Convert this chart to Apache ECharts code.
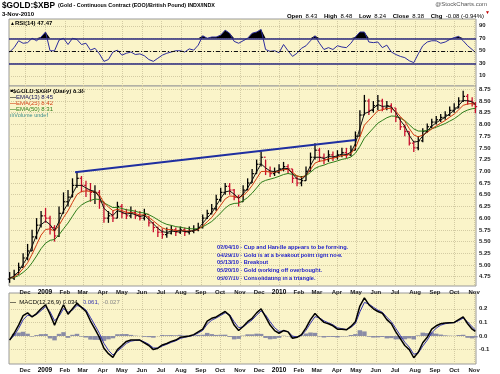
<!DOCTYPE html>
<html><head><meta charset="utf-8">
<script src="https://cdn.jsdelivr.net/npm/echarts@6/dist/echarts.min.js"></script>
<style>html,body{margin:0;padding:0;background:#fff}#c{width:500px;height:374px}</style>
</head><body><div id="c"></div><script>
// ---------- DATA ----------
const weekDates = [
'2008-11-07','2008-11-14','2008-11-21','2008-11-28','2008-12-05','2008-12-12','2008-12-19','2008-12-26',
'2009-01-02','2009-01-09','2009-01-16','2009-01-23','2009-01-30','2009-02-06','2009-02-13','2009-02-20','2009-02-27',
'2009-03-06','2009-03-13','2009-03-20','2009-03-27','2009-04-03','2009-04-10','2009-04-17','2009-04-24',
'2009-05-01','2009-05-08','2009-05-15','2009-05-22','2009-05-29','2009-06-05','2009-06-12','2009-06-19','2009-06-26',
'2009-07-03','2009-07-10','2009-07-17','2009-07-24','2009-07-31','2009-08-07','2009-08-14','2009-08-21','2009-08-28',
'2009-09-04','2009-09-11','2009-09-18','2009-09-25','2009-10-02','2009-10-09','2009-10-16','2009-10-23','2009-10-30',
'2009-11-06','2009-11-13','2009-11-20','2009-11-27','2009-12-04','2009-12-11','2009-12-18','2009-12-25',
'2010-01-01','2010-01-08','2010-01-15','2010-01-22','2010-01-29','2010-02-05','2010-02-12','2010-02-19','2010-02-26',
'2010-03-05','2010-03-12','2010-03-19','2010-03-26','2010-04-02','2010-04-09','2010-04-16','2010-04-23','2010-04-30',
'2010-05-07','2010-05-14','2010-05-21','2010-05-28','2010-06-04','2010-06-11','2010-06-18','2010-06-25',
'2010-07-02','2010-07-09','2010-07-16','2010-07-23','2010-07-30','2010-08-06','2010-08-13','2010-08-20','2010-08-27',
'2010-09-03','2010-09-10','2010-09-17','2010-09-24','2010-10-01','2010-10-08','2010-10-15','2010-10-22','2010-10-29','2010-11-03'];
const priceOpen = [4.70,4.72,4.80,4.95,5.15,5.30,5.60,5.85,6.05,6.00,5.80,5.62,6.10,6.35,6.45,6.70,6.85,6.70,6.60,6.55,6.55,6.35,6.00,6.05,
6.00,6.25,6.10,6.05,6.12,6.05,6.00,6.08,5.90,5.80,5.70,5.65,5.68,5.75,5.70,5.75,5.70,5.72,5.75,5.80,6.00,6.10,6.20,6.40,6.55,6.68,6.60,6.45,
6.35,6.60,6.75,6.95,7.15,7.30,7.00,6.95,6.98,7.05,7.10,7.05,6.85,6.75,6.80,7.00,7.30,7.45,7.30,7.25,7.35,7.30,7.35,7.40,7.35,7.45,
7.75,8.20,8.50,8.30,8.40,8.50,8.35,8.40,8.35,8.15,7.95,7.85,7.60,7.50,7.65,7.85,7.95,8.05,8.10,8.15,8.20,8.30,8.35,8.50,8.60,8.50,8.43];
const priceHigh = [4.85,4.90,5.05,5.25,5.45,5.75,6.00,6.15,6.22,6.05,5.85,6.25,6.55,6.60,6.85,7.00,6.90,6.80,6.75,6.70,6.60,6.35,6.15,6.15,
6.35,6.30,6.20,6.25,6.18,6.15,6.20,6.05,5.92,5.82,5.78,5.80,5.85,5.80,5.82,5.80,5.82,5.85,5.90,6.08,6.18,6.30,6.50,6.65,6.75,6.75,6.62,6.50,
6.70,6.85,7.05,7.25,7.42,7.25,7.10,7.08,7.15,7.20,7.15,7.05,6.90,6.90,7.10,7.40,7.60,7.50,7.38,7.45,7.42,7.45,7.50,7.50,7.55,7.85,
8.30,8.63,8.55,8.50,8.63,8.55,8.50,8.45,8.35,8.15,8.00,7.85,7.65,7.75,7.92,8.02,8.12,8.18,8.22,8.28,8.38,8.45,8.58,8.72,8.65,8.58,8.48];
const priceLow = [4.62,4.68,4.80,4.95,5.10,5.30,5.55,5.80,5.90,5.65,5.50,5.60,6.10,6.25,6.45,6.65,6.55,6.45,6.35,6.30,6.20,5.90,5.90,5.92,
6.00,6.00,5.98,6.00,5.98,5.95,5.95,5.82,5.70,5.60,5.56,5.58,5.65,5.62,5.66,5.62,5.65,5.68,5.72,5.78,5.98,6.08,6.15,6.35,6.50,6.50,6.38,6.25,
6.35,6.60,6.75,6.95,7.10,6.92,6.88,6.90,6.95,7.00,6.95,6.75,6.68,6.68,6.80,7.00,7.25,7.20,7.15,7.20,7.22,7.25,7.30,7.28,7.32,7.45,
7.75,8.20,8.20,8.25,8.30,8.28,8.30,8.25,8.05,7.88,7.75,7.55,7.41,7.45,7.62,7.82,7.92,8.00,8.05,8.10,8.18,8.25,8.35,8.48,8.42,8.38,8.24];
const priceClose = [4.72,4.80,4.95,5.15,5.30,5.60,5.85,6.05,6.00,5.80,5.62,6.10,6.35,6.45,6.70,6.85,6.70,6.60,6.55,6.55,6.35,6.00,6.05,6.00,
6.25,6.10,6.05,6.12,6.05,6.00,6.08,5.90,5.80,5.70,5.65,5.68,5.75,5.70,5.75,5.70,5.72,5.75,5.80,6.00,6.10,6.20,6.40,6.55,6.68,6.60,6.45,6.35,
6.60,6.75,6.95,7.15,7.30,7.00,6.95,6.98,7.05,7.10,7.05,6.85,6.75,6.80,7.00,7.30,7.45,7.30,7.25,7.35,7.30,7.35,7.40,7.35,7.45,7.75,
8.20,8.50,8.30,8.40,8.50,8.35,8.40,8.35,8.15,7.95,7.85,7.60,7.50,7.65,7.85,7.95,8.05,8.10,8.15,8.20,8.30,8.35,8.50,8.60,8.50,8.46,8.38];
const rsiValues = [48,55,66,62,63,70,66,72,80,50,50,67,70,60,70,68,60,62,51,54,45,33,36,48,51,43,46,48,44,45,42,36,33,38,43,46,48,50,50,48,53,51,59,
74,70,72,72,75,83,78,65,62,66,70,78,80,84,52,49,50,47,60,50,41,46,54,58,66,74,62,52,55,52,58,56,55,62,72,80,80,64,63,64,55,59,48,
44,41,39,34,31,45,58,64,66,66,62,64,68,71,73,66,58,52,47.47];
const macdValues = [-0.03,0.02,0.08,0.15,0.17,0.14,0.165,0.20,0.23,0.16,0.08,0.16,0.23,0.16,0.20,0.24,0.21,0.18,0.11,0.05,-0.01,-0.09,-0.13,-0.157,
-0.10,-0.07,-0.04,-0.03,-0.03,-0.03,-0.05,-0.07,-0.10,-0.09,-0.066,-0.055,-0.04,-0.03,-0.01,-0.005,0.0,0.01,0.03,0.05,0.11,0.13,0.14,0.16,0.18,0.15,0.08,0.04,
0.07,0.105,0.13,0.17,0.20,0.14,0.08,0.04,0.02,0.04,0.03,-0.017,-0.01,0.01,0.06,0.12,0.165,0.13,0.10,0.09,0.075,0.05,0.05,0.045,0.07,0.105,
0.22,0.28,0.23,0.20,0.18,0.167,0.12,0.09,0.03,-0.02,-0.07,-0.10,-0.16,-0.12,-0.05,-0.01,0.05,0.075,0.09,0.095,0.098,0.10,0.12,0.14,0.09,0.05,0.034];
const trendDates = ['2009-02-17','2010-04-30'];
const trendValues = [6.98,7.67];
const monthTicks = ['2008-12-01','2009-01-01','2009-02-01','2009-03-01','2009-04-01','2009-05-01','2009-06-01','2009-07-01','2009-08-01','2009-09-01','2009-10-01','2009-11-01',
'2009-12-01','2010-01-01','2010-02-01','2010-03-01','2010-04-01','2010-05-01','2010-06-01','2010-07-01','2010-08-01','2010-09-01','2010-10-01','2010-11-01'];
const monthLabels = ['Dec','2009','Feb','Mar','Apr','May','Jun','Jul','Aug','Sep','Oct','Nov','Dec','2010','Feb','Mar','Apr','May','Jun','Jul','Aug','Sep','Oct','Nov'];
const priceTicks = [4.75,5.00,5.25,5.50,5.75,6.00,6.25,6.50,6.75,7.00,7.25,7.50,7.75,8.00,8.25,8.50,8.75];
const rsiTicks = [10,30,50,70,90];
const macdTicks = [-0.1,0.0,0.1,0.2];
const annotations = ['02/04/10 - Cup and Handle appears to be forming.','04/29/10 - Gold is at a breakout point right now.','05/13/10 - Breakout','05/20/10 - Gold working off overbought.','06/07/10 - Consolidating in a triangle.'];

// ---------- derived ----------
const T = s => Date.parse(s);
const xs = weekDates.map(T);
function ema(arr, a){ const out=[]; let e=arr[0]; arr.forEach((v,i)=>{ e = i===0 ? v : e + a*(v-e); out.push(e); }); return out; }
// daily EMA periods converted to weekly samples: a = 1-(1-2/(N+1))^5
const wa = N => 1-Math.pow(1-2/(N+1),5);
const ema13 = ema(priceClose, wa(13)), ema25 = ema(priceClose, wa(25)), ema50 = ema(priceClose, wa(50));
const signal = ema(macdValues, wa(9));
const hist = macdValues.map((v,i)=>v-signal[i]);
const labelMap = {}; monthTicks.forEach((d,i)=>labelMap[T(d)]=monthLabels[i]);

const FONT = 'Liberation Sans, Arial, sans-serif';
const bg = '#faf4c9';
const gridLine = {show:true, lineStyle:{color:'#d3cba3', type:'dotted', width:1}};
const xMin = T('2008-11-06'), xMax = T('2010-11-04');
function xAxis(gi, showLabel){
  return {type:'value', gridIndex:gi, min:xMin, max:xMax, axisLine:{show:false},
    axisTick:{show:false, customValues: monthTicks.map(T)},
    axisLabel:{show:showLabel, customValues: monthTicks.map(T), fontSize:6, fontWeight:'bold', fontFamily:FONT, color:'#222', margin:3,
      formatter: v => { const l = labelMap[v]; return /^20/.test(l) ? '{y|'+l+'}' : l; },
      rich:{y:{fontSize:6.5, fontWeight:'bold', fontFamily:FONT, color:'#000'}}},
    splitLine: gridLine};
}
function yAxis(gi, min, max, ticks, fmt){
  return {type:'value', gridIndex:gi, position:'right', min, max, scale:true,
    axisLine:{show:false}, axisTick:{show:false, customValues:ticks},
    axisLabel:{customValues:ticks, fontSize:6, fontWeight:'bold', fontFamily:FONT, color:'#222', margin:3, formatter:fmt},
    splitLine: gridLine};
}
const rsiHigh = rsiValues.map(v=>Math.max(v,70));

const option = {
  animation:false,
  backgroundColor:'#fff',
  grid:[
    {left:9, right:24, top:19, height:67, show:true, backgroundColor:bg, borderColor:'#9a9a9a', borderWidth:1},
    {left:9, right:24, top:86, height:200, show:true, backgroundColor:bg, borderColor:'#9a9a9a', borderWidth:1},
    {left:9, right:24, top:293, height:71, show:true, backgroundColor:bg, borderColor:'#9a9a9a', borderWidth:1}
  ],
  xAxis:[xAxis(0,false), xAxis(1,true), xAxis(2,true)],
  yAxis:[
    yAxis(0,-6.4,100.8,rsiTicks, v=>String(v)),
    yAxis(1,4.552,8.82,priceTicks, v=>v.toFixed(2)),
    yAxis(2,-0.206,0.316,macdTicks, v=>v.toFixed(1))
  ],
  series:[
    {type:'line', xAxisIndex:0, yAxisIndex:0, data: xs.map((x,i)=>[x,rsiHigh[i]]), symbol:'none',
      lineStyle:{width:0}, areaStyle:{color:'#000', origin:70, opacity:1}, silent:true, z:2},
    {type:'line', xAxisIndex:0, yAxisIndex:0, data: xs.map((x,i)=>[x,rsiValues[i]]), symbol:'none',
      lineStyle:{color:'#2c2c9c', width:1}, z:3,
      markLine:{symbol:'none', silent:true, label:{show:false}, data:[
        {yAxis:70, lineStyle:{color:'#28287e', width:1.5, type:'solid'}},
        {yAxis:30, lineStyle:{color:'#28287e', width:1.5, type:'solid'}},
        {yAxis:50, lineStyle:{color:'#111', width:1, type:[4,2,1,2]}}]}},
    {type:'custom', xAxisIndex:1, yAxisIndex:1, z:3,
      data: xs.map((x,i)=>[x,priceOpen[i],priceHigh[i],priceLow[i],priceClose[i]]),
      encode:{x:0, y:[1,2,3,4]},
      renderItem:(params, api)=>{
        const x=api.value(0), o=api.value(1), h=api.value(2), l=api.value(3), c=api.value(4);
        const ph=api.coord([x,h]), pl=api.coord([x,l]), po=api.coord([x,o]), pc=api.coord([x,c]);
        const col = c>=o ? '#000' : '#c8102e';
        return {type:'group', children:[
          {type:'line', shape:{x1:ph[0],y1:ph[1],x2:pl[0],y2:pl[1]}, style:{stroke:col,lineWidth:1.3}},
          {type:'line', shape:{x1:po[0]-1.8,y1:po[1],x2:po[0],y2:po[1]}, style:{stroke:col,lineWidth:1.2}},
          {type:'line', shape:{x1:pc[0],y1:pc[1],x2:pc[0]+1.8,y2:pc[1]}, style:{stroke:col,lineWidth:1.2}}]};
      }},
    {type:'line', xAxisIndex:1, yAxisIndex:1, data: xs.map((x,i)=>[x,ema50[i]]), symbol:'none', lineStyle:{color:'#2e7d1a', width:1}, z:4},
    {type:'line', xAxisIndex:1, yAxisIndex:1, data: xs.map((x,i)=>[x,ema25[i]]), symbol:'none', lineStyle:{color:'#d03a10', width:1}, z:4},
    {type:'line', xAxisIndex:1, yAxisIndex:1, data: xs.map((x,i)=>[x,ema13[i]]), symbol:'none', lineStyle:{color:'#111', width:1}, z:4},
    {type:'line', xAxisIndex:1, yAxisIndex:1, data: trendDates.map((d,i)=>[T(d),trendValues[i]]), symbol:'none', lineStyle:{color:'#1f2fa0', width:2}, z:5},
    {type:'bar', xAxisIndex:2, yAxisIndex:2, data: xs.map((x,i)=>[x,hist[i]]), barWidth:4.5, itemStyle:{color:'#8a8ca6'}, z:2},
    {type:'line', xAxisIndex:2, yAxisIndex:2, data: xs.map((x,i)=>[x,signal[i]]), symbol:'none', lineStyle:{color:'#3535b0', width:1}, z:3},
    {type:'line', xAxisIndex:2, yAxisIndex:2, data: xs.map((x,i)=>[x,macdValues[i]]), symbol:'none', lineStyle:{color:'#000', width:1.5}, z:4}
  ],
  graphic:[
    {type:'text', left:2, top:1.5, style:{text:'$GOLD:$XBP', font:'bold 8.3px '+FONT, fill:'#000'}},
    {type:'text', left:58, top:3.5, style:{text:'(Gold - Continuous Contract (EOO)/British Pound) INDX/INDX', font:'bold 5.4px '+FONT, fill:'#000'}},
    {type:'text', left:2, top:11, style:{text:'3-Nov-2010', font:'bold 6px '+FONT, fill:'#000'}},
    {type:'text', right:13, top:1, style:{text:'@StockCharts.com', font:'6px '+FONT, fill:'#555'}},
    {type:'text', right:16, top:10.5, style:{
      text:'{k|Open} {v|8.43}  {k|High} {v|8.48}  {k|Low} {v|8.24}  {k|Close} {v|8.38}  {k|Chg} {v|-0.08 (-0.94%)}',
      rich:{k:{font:'bold 6px '+FONT, fill:'#000'}, v:{font:'6px '+FONT, fill:'#000'}}}},
    {type:'text', right:10, top:10.5, style:{text:'\u25BC', font:'5px '+FONT, fill:'#c00000'}},
    {type:'text', left:10, top:20.5, style:{text:'{i|\u25B2}{t|RSI(14) 47.47}', rich:{i:{font:'5px '+FONT, fill:'#000'}, t:{font:'bold 6px '+FONT, fill:'#000'}}}},
    {type:'text', left:10, top:88, style:{text:'{i|\u25A0}{t|$GOLD:$XBP (Daily) 8.38}', rich:{i:{font:'5px '+FONT, fill:'#000'}, t:{font:'bold 6px '+FONT, fill:'#000'}}}},
    {type:'text', left:10, top:94, style:{text:'{l|\u2014}{t|EMA(13) 8.45}', rich:{l:{font:'bold 6px '+FONT, fill:'#000'}, t:{font:'6px '+FONT, fill:'#10105a'}}}},
    {type:'text', left:10, top:100, style:{text:'{l|\u2014}{t|EMA(25) 8.42}', rich:{l:{font:'bold 6px '+FONT, fill:'#d03a10'}, t:{font:'6px '+FONT, fill:'#d03a10'}}}},
    {type:'text', left:10, top:106, style:{text:'{l|\u2014}{t|EMA(50) 8.31}', rich:{l:{font:'bold 6px '+FONT, fill:'#2e7d1a'}, t:{font:'6px '+FONT, fill:'#2e7d1a'}}}},
    {type:'text', left:10, top:112, style:{text:'ılıVolume undef', font:'5.5px '+FONT, fill:'#3b8c8c'}},
    {type:'text', left:217, top:243.5, style:{text:annotations.join('\n'), font:'bold 5.6px '+FONT, fill:'#1a1ac8', lineHeight:7.75}},
    {type:'text', left:10, top:296, style:{text:'{l|\u2014} {t|MACD(12,26,9) 0.034,} {b|0.061,} {g|-0.027}',
      rich:{l:{font:'bold 6px '+FONT, fill:'#000'}, t:{font:'6px '+FONT, fill:'#000'}, b:{font:'6px '+FONT, fill:'#3535b0'}, g:{font:'6px '+FONT, fill:'#888'}}}}
  ]
};
const chart = echarts.init(document.getElementById('c'));
chart.setOption(option);
</script></body></html>
